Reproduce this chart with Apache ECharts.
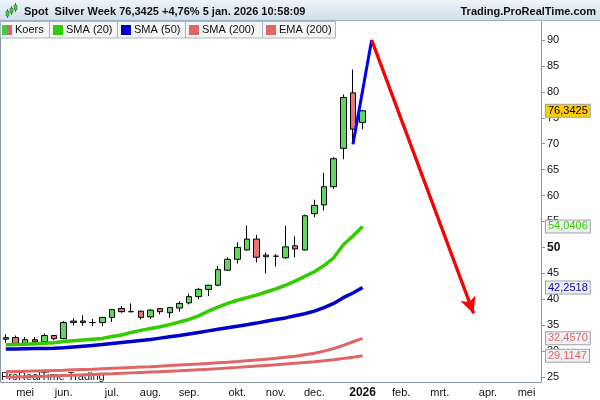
<!DOCTYPE html>
<html>
<head>
<meta charset="utf-8">
<title>Spot Silver Week</title>
<script src="https://cdn.jsdelivr.net/npm/echarts@6/dist/echarts.min.js"></script>
<style>
	html, body { margin: 0; padding: 0; background: #fff; }
	#chart { width: 600px; height: 400px; }
</style>
</head>
<body>
<div id="chart"></div>
<script>
	var weeks = [
		'2025-04-21','2025-04-28','2025-05-05','2025-05-12','2025-05-19','2025-05-26',
		'2025-06-02','2025-06-09','2025-06-16','2025-06-23','2025-06-30',
		'2025-07-07','2025-07-14','2025-07-21','2025-07-28',
		'2025-08-04','2025-08-11','2025-08-18','2025-08-25',
		'2025-09-01','2025-09-08','2025-09-15','2025-09-22','2025-09-29',
		'2025-10-06','2025-10-13','2025-10-20','2025-10-27',
		'2025-11-03','2025-11-10','2025-11-17','2025-11-24',
		'2025-12-01','2025-12-08','2025-12-15','2025-12-22','2025-12-29',
		'2026-01-05','2026-01-12','2026-01-19','2026-01-26',
		'2026-02-02','2026-02-09','2026-02-16','2026-02-23',
		'2026-03-02','2026-03-09','2026-03-16','2026-03-23','2026-03-30',
		'2026-04-06','2026-04-13','2026-04-20','2026-04-27',
		'2026-05-04','2026-05-11'
	];
	var monthLabels = {
		'2025-05-05': 'mei', '2025-06-02': 'jun.', '2025-07-07': 'jul.', '2025-08-04': 'aug.',
		'2025-09-01': 'sep.', '2025-10-06': 'okt.', '2025-11-03': 'nov.', '2025-12-01': 'dec.',
		'2026-01-05': '2026', '2026-02-02': 'feb.', '2026-03-02': 'mrt.', '2026-04-06': 'apr.',
		'2026-05-04': 'mei'
	};
	var yTicks = [25, 30, 35, 40, 45, 50, 55, 60, 65, 70, 75, 80, 85, 90];

	// koers (weekly candles)
	var openData  = [32.3, 32.6, 31.5, 32.2, 31.8, 33.0, 32.4, 35.5, 35.8, 35.5, 35.5, 36.5, 38.2, 37.6, 37.7, 36.6, 38.2, 37.4, 38.3, 39.3,
		40.5, 41.9, 42.7, 45.6, 47.7, 49.5, 51.6, 48.2, 48.3, 48.0, 50.3, 49.5, 56.5, 58.2, 61.7, 69.1, 79.8, 74.1];
	var closeData = [32.6, 31.5, 32.2, 31.8, 33.0, 32.4, 35.5, 35.8, 35.5, 35.5, 36.5, 38.0, 37.6, 37.6, 36.5, 37.9, 37.6, 38.4, 39.2, 40.5,
		41.9, 42.7, 45.7, 47.7, 50.0, 51.6, 48.1, 48.5, 48.3, 50.1, 49.7, 56.1, 58.1, 61.7, 67.1, 78.9, 72.8, 76.3425];
	var lowData   = [31.6, 31.4, 31.4, 31.1, 31.6, 32.1, 32.3, 34.9, 34.9, 34.8, 34.8, 35.6, 37.4, 37.5, 36.1, 36.2, 37.1, 36.4, 37.6, 39.0,
		40.0, 40.6, 42.6, 45.5, 46.9, 49.4, 47.1, 45.0, 46.3, 47.8, 48.1, 49.4, 55.8, 57.1, 61.3, 67.0, 69.9, 72.8];
	var highData  = [33.25, 33.0, 32.7, 32.7, 33.4, 33.1, 35.8, 36.3, 36.9, 36.2, 36.6, 38.1, 38.7, 39.2, 37.8, 38.1, 38.3, 38.5, 39.6, 41.1,
		42.2, 42.8, 46.4, 48.1, 51.0, 54.2, 52.4, 49.0, 48.7, 54.2, 52.1, 56.3, 59.2, 64.4, 67.4, 79.5, 84.3, 76.5];

	var sma20Data = [31.2, 31.25, 31.3, 31.4, 31.5, 31.6, 31.85, 32.0, 32.15, 32.3, 32.45, 32.8, 33.1, 33.6, 34.0, 34.35, 34.7, 35.1, 35.6, 36.1,
		36.8, 37.7, 38.5, 39.2, 39.8, 40.3, 40.8, 41.4, 42.0, 42.7, 43.5, 44.4, 45.3, 46.5, 48.0, 50.5, 52.2, 54.0406];
	var sma50Data = [30.4, 30.42, 30.45, 30.48, 30.5, 30.55, 30.65, 30.8, 30.95, 31.1, 31.25, 31.45, 31.65, 31.85, 32.05, 32.25, 32.5, 32.75, 33.0, 33.3,
		33.6, 33.9, 34.2, 34.5, 34.8, 35.1, 35.4, 35.75, 36.1, 36.4, 36.8, 37.2, 37.7, 38.4, 39.2, 40.3, 41.2, 42.2518];
	var sma200Data = [26.0, 26.05, 26.1, 26.15, 26.2, 26.25, 26.3, 26.38, 26.45, 26.52, 26.6, 26.68, 26.76, 26.84, 26.92, 27.0, 27.1, 27.2, 27.3, 27.4,
		27.5, 27.62, 27.74, 27.86, 28.0, 28.15, 28.3, 28.45, 28.6, 28.8, 29.0, 29.3, 29.6, 30.0, 30.5, 31.1, 31.8, 32.4570];
	var ema200Data = [24.95, 25.0, 25.05, 25.1, 25.15, 25.2, 25.28, 25.35, 25.42, 25.5, 25.57, 25.64, 25.72, 25.8, 25.88, 25.96, 26.04, 26.12, 26.2, 26.3,
		26.4, 26.5, 26.62, 26.74, 26.86, 27.0, 27.12, 27.24, 27.36, 27.5, 27.64, 27.8, 27.96, 28.14, 28.34, 28.56, 28.82, 29.1147];

	// drawn trend lines, [week index, price]
	var blueLine = [[36, 69.9], [37.94, 90]];
	var redArrow = [[37.94, 90], [48.5, 37.3]];

	var legendItems = [
		{ name: 'Koers', x0: 0, x1: 49 },
		{ name: 'SMA (20)', x0: 49, x1: 117, color: '#33cc00' },
		{ name: 'SMA (50)', x0: 117, x1: 185, color: '#0000cc' },
		{ name: 'SMA (200)', x0: 185, x1: 262, color: '#e06666' },
		{ name: 'EMA (200)', x0: 262, x1: 335, color: '#e06666' }
	];

	var FONT = '"Liberation Sans", Arial, sans-serif';

	function fmt(v) {
		return v.toFixed(4).replace('.', ',');
	}

	// value tag on the right axis
	function valueBox(v, color, bg) {
		return {
			silent: true,
			symbol: ['none', 'none'],
			lineStyle: { color: 'rgba(0,0,0,0)', width: 1 },
			data: [{ yAxis: v }],
			label: {
				show: true,
				position: 'end',
				distance: 5,
				formatter: fmt(v),
				color: color,
				backgroundColor: bg,
				borderColor: '#9aa4ad',
				borderWidth: 1,
				padding: [1, 2, 0, 2],
				fontSize: 11,
				fontFamily: FONT
			}
		};
	}

	var candles = weeks.map(function (w, i) {
		if (i >= openData.length) return '-';
		return [openData[i], closeData[i], lowData[i], highData[i]];
	});

	var graphics = [
		{
			type: 'rect', z: 100,
			shape: { x: 0, y: 0, width: 600, height: 21 },
			style: { fill: new echarts.graphic.LinearGradient(0, 0, 0, 1, [
				{ offset: 0, color: '#eef4f9' }, { offset: 1, color: '#cddfeb' }]) }
		},
		{ type: 'line', z: 100, shape: { x1: 0, y1: 20.5, x2: 600, y2: 20.5 }, style: { stroke: '#9aafbf', lineWidth: 1 } },
		// little candle icon
		{ type: 'line', z: 101, shape: { x1: 7.5, y1: 9, x2: 7.5, y2: 18 }, style: { stroke: '#666' } },
		{ type: 'rect', z: 101, shape: { x: 6, y: 11, width: 3, height: 5 }, style: { fill: '#44cc44', stroke: '#555', lineWidth: 0.5 } },
		{ type: 'line', z: 101, shape: { x1: 11.5, y1: 6, x2: 11.5, y2: 15 }, style: { stroke: '#666' } },
		{ type: 'rect', z: 101, shape: { x: 10, y: 8, width: 3, height: 5 }, style: { fill: '#44cc44', stroke: '#555', lineWidth: 0.5 } },
		{ type: 'line', z: 101, shape: { x1: 15.5, y1: 3, x2: 15.5, y2: 12 }, style: { stroke: '#666' } },
		{ type: 'rect', z: 101, shape: { x: 14, y: 5, width: 3, height: 5 }, style: { fill: '#44cc44', stroke: '#555', lineWidth: 0.5 } },
		{
			type: 'text', z: 101, x: 24, y: 12,
			style: { text: 'Spot  Silver Week 76,3425 +4,76% 5 jan. 2026 10:58:09', font: 'bold 11px ' + FONT, fill: '#111', verticalAlign: 'middle' }
		},
		{
			type: 'text', z: 101, x: 596, y: 12,
			style: { text: 'Trading.ProRealTime.com', font: 'bold 11px ' + FONT, fill: '#111', align: 'right', verticalAlign: 'middle' }
		},
		{ type: 'line', z: 90, shape: { x1: 0.5, y1: 21, x2: 0.5, y2: 382 }, style: { stroke: '#8a98a6', lineWidth: 1 } },
		{
			type: 'text', z: 1, x: 1, y: 377,
			style: { text: 'ProRealTime Trading', font: '11px ' + FONT, fill: '#111', verticalAlign: 'middle' }
		}
	];

	legendItems.forEach(function (it) {
		graphics.push({
			type: 'rect', z: 100,
			shape: { x: it.x0 + 0.5, y: 21.5, width: it.x1 - it.x0, height: 16.5 },
			style: { fill: '#f4f5f6', stroke: '#aab6c0', lineWidth: 1 }
		});
		if (it.color) {
			graphics.push({ type: 'rect', z: 101, shape: { x: it.x0 + 4, y: 25, width: 10, height: 10 }, style: { fill: it.color } });
		} else {
			graphics.push({ type: 'rect', z: 101, shape: { x: 2, y: 25, width: 5, height: 10 }, style: { fill: '#44cc44' } });
			graphics.push({ type: 'rect', z: 101, shape: { x: 7, y: 25, width: 5, height: 10 }, style: { fill: '#e06666' } });
		}
		graphics.push({
			type: 'text', z: 101, x: it.color ? it.x0 + 17 : 15, y: 30,
			style: { text: it.name, font: '11px ' + FONT, fill: '#111', verticalAlign: 'middle' }
		});
	});

	var option = {
		animation: false,
		textStyle: { fontFamily: FONT },
		grid: { left: 1, right: 59, top: 21, bottom: 18 },
		xAxis: [{
			type: 'category',
			data: weeks,
			boundaryGap: true,
			axisLine: { onZero: false, lineStyle: { color: '#8a98a6' } },
			axisTick: {
				alignWithLabel: true,
				length: 3,
				interval: function (i, v) { return !!monthLabels[v]; },
				lineStyle: { color: '#8a98a6' }
			},
			axisLabel: {
				interval: function (i, v) { return !!monthLabels[v]; },
				formatter: function (v) {
					var t = monthLabels[v] || '';
					return t === '2026' ? '{b|2026}' : t;
				},
				rich: { b: { fontWeight: 'bold', fontSize: 12, color: '#111' } },
				color: '#111',
				fontSize: 11,
				margin: 5
			},
			splitLine: { show: false }
		}, {
			type: 'value',
			min: -0.5,
			max: weeks.length - 0.5,
			show: false
		}],
		yAxis: {
			type: 'value',
			position: 'right',
			min: 24.04,
			max: 93.66,
			axisLine: { show: true, onZero: false, lineStyle: { color: '#8a98a6' } },
			axisTick: { show: true, length: 4, customValues: yTicks, lineStyle: { color: '#8a98a6' } },
			axisLabel: {
				customValues: yTicks,
				margin: 6,
				color: '#111',
				fontSize: 11,
				formatter: function (v) { return v === 50 ? '{b|50}' : String(v); },
				rich: { b: { fontWeight: 'bold', fontSize: 12, color: '#111' } }
			},
			splitLine: { show: false }
		},
		series: [{
			name: 'EMA (200)',
			type: 'line',
			data: ema200Data,
			symbol: 'none',
			lineStyle: { color: '#e06666', width: 3 },
			markLine: valueBox(ema200Data[ema200Data.length - 1], '#e06666', '#f0f0f0')
		}, {
			name: 'SMA (200)',
			type: 'line',
			data: sma200Data,
			symbol: 'none',
			lineStyle: { color: '#e06666', width: 3 },
			markLine: valueBox(sma200Data[sma200Data.length - 1], '#e06666', '#f0f0f0')
		}, {
			name: 'SMA (50)',
			type: 'line',
			data: sma50Data,
			symbol: 'none',
			lineStyle: { color: '#0000cc', width: 3.5 },
			markLine: valueBox(sma50Data[sma50Data.length - 1], '#0000cc', '#f0f0f0')
		}, {
			name: 'SMA (20)',
			type: 'line',
			data: sma20Data,
			symbol: 'none',
			lineStyle: { color: '#33cc00', width: 3.5 },
			markLine: valueBox(sma20Data[sma20Data.length - 1], '#33cc00', '#f0f0f0')
		}, {
			name: 'Koers',
			type: 'candlestick',
			data: candles,
			barWidth: 6,
			itemStyle: {
				color: '#5fd65f',
				color0: '#e87575',
				borderColor: '#000',
				borderColor0: '#000',
				borderColorDoji: '#000',
				borderWidth: 1
			},
			markLine: valueBox(closeData[closeData.length - 1], '#000', '#ffcc00')
		}, {
			name: 'trend',
			type: 'line',
			xAxisIndex: 1,
			data: blueLine,
			symbol: 'none',
			lineStyle: { color: '#0000ff', width: 3 },
			z: 5
		}, {
			name: 'target',
			type: 'line',
			xAxisIndex: 1,
			data: redArrow,
			symbol: 'none',
			lineStyle: { color: '#ff0000', width: 3 },
			z: 5,
			markLine: {
				silent: true,
				symbol: ['none', 'arrow'],
				symbolSize: [12, 16],
				lineStyle: { color: '#ff0000', width: 3, type: 'solid' },
				label: { show: false },
				data: [[{ coord: redArrow[0] }, { coord: redArrow[1] }]]
			}
		}],
		graphic: graphics
	};

	var chart = echarts.init(document.getElementById('chart'));
	chart.setOption(option);
</script>
</body>
</html>
